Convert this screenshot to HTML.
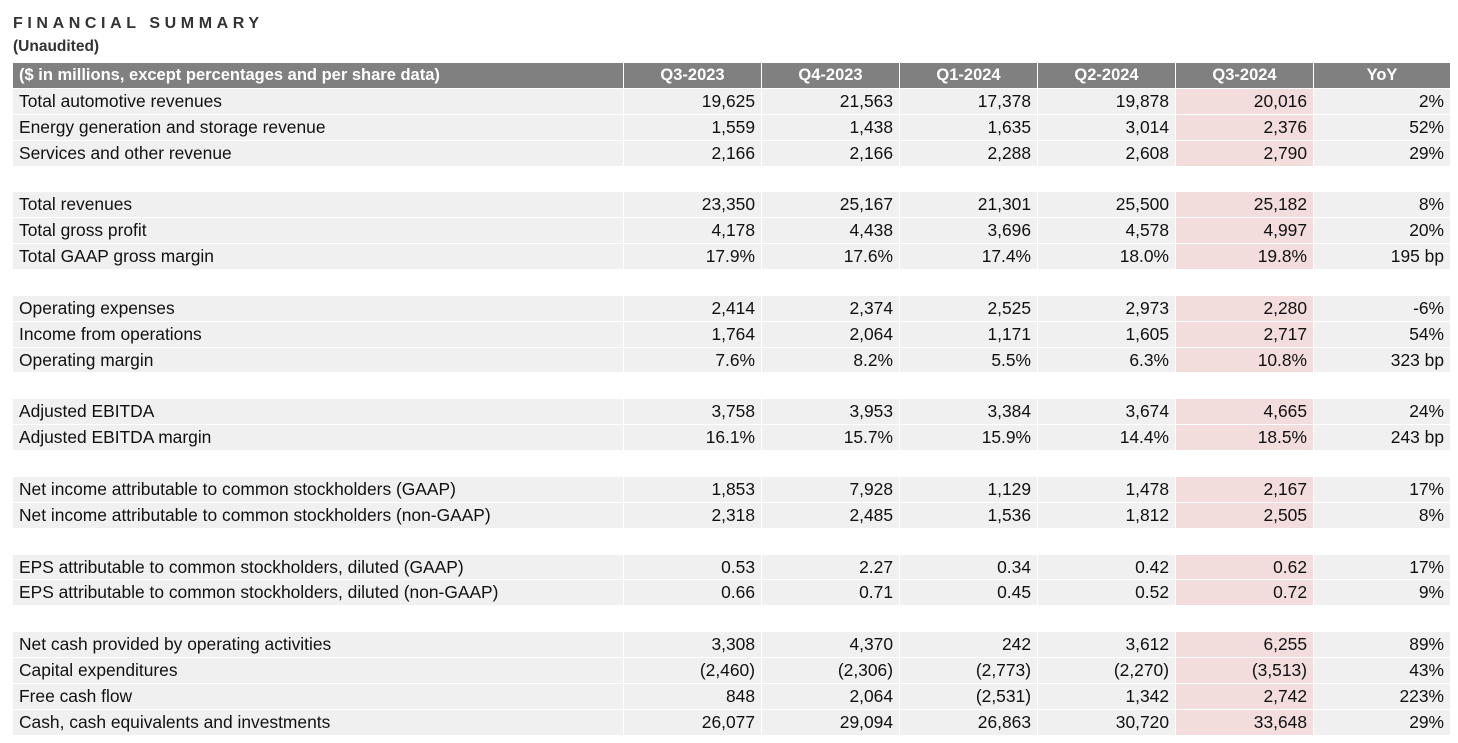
<!DOCTYPE html>
<html><head><meta charset="utf-8"><style>
body{margin:0;background:#fff;font-family:"Liberation Sans",Arial,sans-serif;color:#111;width:1458px;height:743px;overflow:hidden}
.t1{position:absolute;left:13px;top:15px;font-size:16px;font-weight:bold;letter-spacing:4.6px;color:#333}
.t2{position:absolute;left:13px;top:38px;font-size:15.5px;font-weight:bold;color:#333}
table{position:absolute;left:12px;top:62px;border-collapse:separate;border-spacing:1px 1px;table-layout:fixed;font-size:17.4px}
td,th{height:24.87px;padding:0 6px;white-space:nowrap;line-height:24.87px}
th{background:#808080;color:#fff;font-weight:bold;text-align:center;font-size:16.5px}
th:first-child{text-align:left}
td{background:#f0f0f0;text-align:right}
td:first-child{text-align:left}
td.h{background:#f2dcdc}
tr.s td{background:#fff}
</style></head><body>
<div class="t1">FINANCIAL SUMMARY</div>
<div class="t2">(Unaudited)</div>
<table>
<colgroup><col style="width:610px"><col style="width:137px"><col style="width:137px"><col style="width:137px"><col style="width:137px"><col style="width:137px"><col style="width:136px"></colgroup>
<tr><th>($ in millions, except percentages and per share data)</th><th>Q3-2023</th><th>Q4-2023</th><th>Q1-2024</th><th>Q2-2024</th><th>Q3-2024</th><th>YoY</th></tr>
<tr><td>Total automotive revenues</td><td>19,625</td><td>21,563</td><td>17,378</td><td>19,878</td><td class="h">20,016</td><td>2%</td></tr>
<tr><td>Energy generation and storage revenue</td><td>1,559</td><td>1,438</td><td>1,635</td><td>3,014</td><td class="h">2,376</td><td>52%</td></tr>
<tr><td>Services and other revenue</td><td>2,166</td><td>2,166</td><td>2,288</td><td>2,608</td><td class="h">2,790</td><td>29%</td></tr>
<tr class="s"><td colspan="7"></td></tr>
<tr><td>Total revenues</td><td>23,350</td><td>25,167</td><td>21,301</td><td>25,500</td><td class="h">25,182</td><td>8%</td></tr>
<tr><td>Total gross profit</td><td>4,178</td><td>4,438</td><td>3,696</td><td>4,578</td><td class="h">4,997</td><td>20%</td></tr>
<tr><td>Total GAAP gross margin</td><td>17.9%</td><td>17.6%</td><td>17.4%</td><td>18.0%</td><td class="h">19.8%</td><td>195 bp</td></tr>
<tr class="s"><td colspan="7"></td></tr>
<tr><td>Operating expenses</td><td>2,414</td><td>2,374</td><td>2,525</td><td>2,973</td><td class="h">2,280</td><td>-6%</td></tr>
<tr><td>Income from operations</td><td>1,764</td><td>2,064</td><td>1,171</td><td>1,605</td><td class="h">2,717</td><td>54%</td></tr>
<tr><td>Operating margin</td><td>7.6%</td><td>8.2%</td><td>5.5%</td><td>6.3%</td><td class="h">10.8%</td><td>323 bp</td></tr>
<tr class="s"><td colspan="7"></td></tr>
<tr><td>Adjusted EBITDA</td><td>3,758</td><td>3,953</td><td>3,384</td><td>3,674</td><td class="h">4,665</td><td>24%</td></tr>
<tr><td>Adjusted EBITDA margin</td><td>16.1%</td><td>15.7%</td><td>15.9%</td><td>14.4%</td><td class="h">18.5%</td><td>243 bp</td></tr>
<tr class="s"><td colspan="7"></td></tr>
<tr><td>Net income attributable to common stockholders (GAAP)</td><td>1,853</td><td>7,928</td><td>1,129</td><td>1,478</td><td class="h">2,167</td><td>17%</td></tr>
<tr><td>Net income attributable to common stockholders (non-GAAP)</td><td>2,318</td><td>2,485</td><td>1,536</td><td>1,812</td><td class="h">2,505</td><td>8%</td></tr>
<tr class="s"><td colspan="7"></td></tr>
<tr><td>EPS attributable to common stockholders, diluted (GAAP)</td><td>0.53</td><td>2.27</td><td>0.34</td><td>0.42</td><td class="h">0.62</td><td>17%</td></tr>
<tr><td>EPS attributable to common stockholders, diluted (non-GAAP)</td><td>0.66</td><td>0.71</td><td>0.45</td><td>0.52</td><td class="h">0.72</td><td>9%</td></tr>
<tr class="s"><td colspan="7"></td></tr>
<tr><td>Net cash provided by operating activities</td><td>3,308</td><td>4,370</td><td>242</td><td>3,612</td><td class="h">6,255</td><td>89%</td></tr>
<tr><td>Capital expenditures</td><td>(2,460)</td><td>(2,306)</td><td>(2,773)</td><td>(2,270)</td><td class="h">(3,513)</td><td>43%</td></tr>
<tr><td>Free cash flow</td><td>848</td><td>2,064</td><td>(2,531)</td><td>1,342</td><td class="h">2,742</td><td>223%</td></tr>
<tr><td>Cash, cash equivalents and investments</td><td>26,077</td><td>29,094</td><td>26,863</td><td>30,720</td><td class="h">33,648</td><td>29%</td></tr>
</table>
</body></html>
